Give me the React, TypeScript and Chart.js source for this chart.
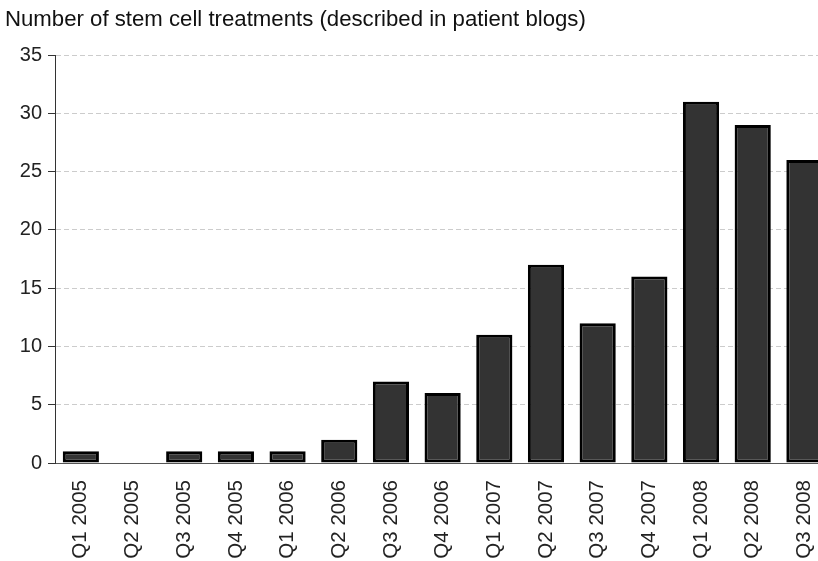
import React, { useEffect, useRef } from "react";
import { Chart, registerables } from "chart.js";

Chart.register(...registerables);

const categories = [
  "Q1 2005", "Q2 2005", "Q3 2005", "Q4 2005",
  "Q1 2006", "Q2 2006", "Q3 2006", "Q4 2006",
  "Q1 2007", "Q2 2007", "Q3 2007", "Q4 2007",
  "Q1 2008", "Q2 2008", "Q3 2008",
];
const treatments = [1, 0, 1, 1, 1, 2, 7, 6, 11, 17, 12, 16, 31, 29, 26];
const yMin = 0;
const yMax = 35;
const yStep = 5;
const titleText = "Number of stem cell treatments (described in patient blogs)";

const FONT = "'Liberation Sans', Arial, sans-serif";
const CANVAS_W = 846;

export default function App() {
  const ref = useRef<HTMLCanvasElement | null>(null);

  useEffect(() => {
    document.documentElement.style.overflow = "hidden";
    document.body.style.margin = "0";
    document.body.style.overflow = "hidden";
    const canvas = ref.current;
    if (!canvas) return;
    const chart = new Chart(canvas, {
      type: "bar",
      data: {
        labels: categories,
        datasets: [
          {
            data: treatments,
            backgroundColor: "#333333",
            borderColor: "#000000",
            borderWidth: 3,
            borderSkipped: false,
            barPercentage: 0.7,
            categoryPercentage: 1,
          },
        ],
      },
      options: {
        responsive: false,
        animation: false,
        layout: { padding: { left: 5, right: 0, top: 0, bottom: 0 } },
        plugins: {
          legend: { display: false },
          tooltip: { enabled: false },
          title: {
            display: true,
            text: titleText,
            align: "start",
            color: "#111111",
            font: { family: FONT, size: 22.2, weight: "normal", lineHeight: 1.2 },
            padding: { top: 7, bottom: 21.4 },
          },
        },
        scales: {
          x: {
            grid: { display: false, drawTicks: false },
            border: { display: true, color: "#555555", width: 1 },
            ticks: {
              autoSkip: false,
              minRotation: 90,
              maxRotation: 90,
              padding: 17,
              color: "#222222",
              font: { family: FONT, size: 20.5 },
            },
            afterFit: (scale: any) => {
              scale.height = 98;
            },
          },
          y: {
            min: yMin,
            max: yMax,
            ticks: {
              stepSize: yStep,
              padding: 6,
              color: "#222222",
              font: { family: FONT, size: 20 },
            },
            grid: {
              color: "#cccccc",
              lineWidth: 1,
              drawTicks: true,
              tickLength: 7,
              tickColor: "#333333",
            },
            border: { display: true, color: "#333333", width: 1, dash: [5, 3] },
            afterFit: (scale: any) => {
              scale.width = 50;
            },
          },
        },
      },
    });
    return () => chart.destroy();
  }, []);

  return (
    <div style={{ position: "fixed", left: 0, top: 0, width: CANVAS_W, height: 561 }}>
      <canvas ref={ref} width={CANVAS_W} height={561} style={{ display: "block" }} />
    </div>
  );
}
